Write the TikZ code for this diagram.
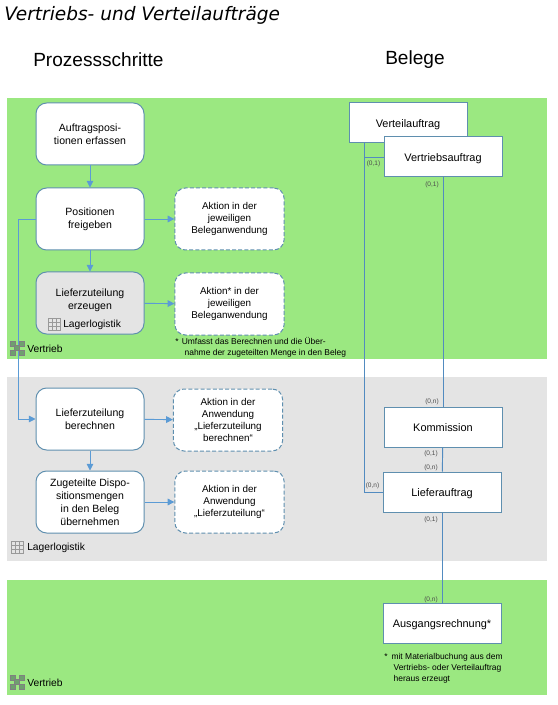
\documentclass[tikz,border=0pt]{standalone}
\usepackage{fontspec}
\setmainfont{Liberation Sans}
\newfontfamily\titlefont{DejaVu Sans}
\usetikzlibrary{arrows.meta}
\definecolor{bandgreen}{HTML}{9BE881}
\definecolor{bandgray}{HTML}{E4E4E4}
\definecolor{flowblue}{HTML}{5B9BD5}
\definecolor{edgeblue}{HTML}{5F8FAF}
\definecolor{iconleaf}{HTML}{6F9F6F}
\tikzset{
  nudged/.style={execute at begin node={\vspace*{#1}}},
  stepbox/.style={draw=edgeblue,line width=0.75pt,fill=white,rounded corners=8pt,minimum width=81pt,minimum height=46.5pt,align=center,inner sep=1pt,font=\fontsize{7.9}{9.8}\selectfont},
  actionbox/.style={stepbox,dashed,dash pattern=on 3pt off 1.6pt,minimum width=82pt,font=\fontsize{7.4}{9.2}\selectfont},
  docbox/.style={draw=edgeblue,line width=0.75pt,fill=white,minimum width=88.5pt,minimum height=30pt,inner sep=1pt,text height=7pt,text depth=0pt,font=\fontsize{8.2}{10}\selectfont},
  card/.style={font=\fontsize{4.9}{6}\selectfont,inner sep=0pt,text=black!70},
  flow/.style={draw=flowblue,line width=0.7pt,-{Triangle[length=5pt,width=5pt]}},
  link/.style={draw=flowblue!90!black,line width=0.7pt},
  note/.style={font=\fontsize{6.35}{8.2}\selectfont,align=left,inner sep=0pt,anchor=north west},
  tag/.style={font=\fontsize{7.7}{9}\selectfont,inner sep=0pt,anchor=west}
}
\newcommand{\gridicon}[2]{%
  \draw[black!40,line width=0.3pt,shift={(#1,#2)}] (0,0) rectangle (12,12) (0,4) -- (12,4) (0,8) -- (12,8) (4,0) -- (4,12) (8,0) -- (8,12);}
\newcommand{\salesicon}[2]{%
  \draw[black!50,line width=0.5pt,shift={(#1,#2)}] (3,3) -- (11,11) (11,3) -- (3,11);
  \foreach \px/\py in {0/0,9/0,0/9,9/9,4.5/4.5}
    \draw[black!50,fill=iconleaf,line width=0.3pt,shift={(#1,#2)}] (\px,\py) rectangle ++(5,5);}
\begin{document}
\begin{tikzpicture}[x=0.75pt,y=0.75pt,yscale=-1,xscale=1]
  \useasboundingbox (0,0) rectangle (557,705);

  %Bands
  \fill[bandgreen] (7,98) rectangle (547,359);
  \fill[bandgray] (7,377) rectangle (547,561);
  \fill[bandgreen] (7,580) rectangle (547,695);

  % Headings
  \node[anchor=west,inner sep=0pt,font=\titlefont\itshape\fontsize{13.9}{15}\selectfont] (title) at (4,15) {Vertriebs- und Verteilaufträge};
  \node[anchor=west,inner sep=0pt,font=\fontsize{14.3}{16}\selectfont] (headsteps) at (33,60) {Prozessschritte};
  \node[anchor=west,inner sep=0pt,font=\fontsize{14.3}{16}\selectfont] (headdocs) at (385,60) {Belege};

  % Process steps
  \node[stepbox,nudged=2.4pt] (erfassen) at (90,134) {Auftragsposi-\\tionen erfassen};
  \node[stepbox,nudged=2.4pt] (freigeben) at (90,219) {Positionen\\freigeben};
  \node[stepbox,fill=bandgray] (erzeugen) at (90,303) {Lieferzuteilung\\erzeugen\\[-3.8pt]\mbox{}};
  \node[stepbox,nudged=2.4pt] (berechnen) at (90,419) {Lieferzuteilung\\berechnen};
  \node[stepbox,nudged=2.4pt] (uebernehmen) at (90,502) {Zugeteilte Dispo-\\sitionsmengen\\in den Beleg\\übernehmen};

  % Actions
  \node[actionbox,nudged=2.4pt] (aktion a) at (229.5,219) {Aktion in der\\jeweiligen\\Beleganwendung};
  \node[actionbox,nudged=2.4pt] (aktion b) at (229.5,304) {Aktion* in der\\jeweiligen\\Beleganwendung};
  \node[actionbox,nudged=2.4pt] (aktion c) at (228,420) {Aktion in der\\Anwendung\\„Lieferzuteilung\\berechnen“};
  \node[actionbox,nudged=2.4pt] (aktion d) at (229.5,502) {Aktion in der\\Anwendung\\„Lieferzuteilung“};

  % Step arrows
  \draw[flow] (erfassen) -- (freigeben);
  \draw[flow] (freigeben) -- (erzeugen);
  \draw[flow] (berechnen) -- (uebernehmen);
  \draw[flow] (freigeben) -- (aktion a);
  \draw[flow] (erzeugen) -- (aktion b);
  \draw[flow] (berechnen) -- (aktion c);
  \draw[flow] (uebernehmen) -- (aktion d);
  \draw[flow] (freigeben.west) -- (18,219) -- (18,419) -- (berechnen.west);

  % Documents
  \node[docbox] (verteil) at (408,123) {Verteilauftrag};
  \coordinate (verteil foot) at (364,143);
  \coordinate (verteil knee) at (364,157);
  \coordinate (liefer knee) at (364,492);
  \draw[link] (verteil foot) -- (liefer knee);
  \draw[link] (verteil knee) -- (384,157);
  \node[docbox] (vertrieb) at (443,157) {Vertriebsauftrag};
  \node[docbox] (kommission) at (443,427) {Kommission};
  \node[docbox] (liefer) at (442,492) {Lieferauftrag};
  \node[docbox] (rechnung) at (442,623) {Ausgangsrechnung*};
  \draw[link] (liefer knee) -- (liefer);
  \draw[link] (vertrieb) -- (kommission);
  \draw[link] (kommission) -- (liefer);
  \draw[link] (liefer) -- (rechnung);

  % Cardinalities
  \node[card] (c1) at (373.5,163.5) {(0,1)};
  \node[card] (c2) at (432,184.5) {(0,1)};
  \node[card] (c3) at (432,401.5) {(0,n)};
  \node[card] (c4) at (431,454) {(0,1)};
  \node[card] (c5) at (431,467.5) {(0,n)};
  \node[card] (c6) at (372.5,485.5) {(0,n)};
  \node[card] (c7) at (431,519.5) {(0,1)};
  \node[card] (c8) at (431,600) {(0,n)};

  % Notes
  \node[note] (note a) at (175,337.5) {*\hspace{2.4pt}Umfasst das Berechnen und die Über-\\\hspace{7pt}nahme der zugeteilten Menge in den Beleg};
  \node[note] (note b) at (384,653) {*\hspace{3pt}mit Materialbuchung aus dem\\\hspace{7pt}Vertriebs- oder Verteilauftrag\\\hspace{7pt}heraus erzeugt};

  % System tags
  \gridicon{48}{318}
  \node[tag] (tag a) at (63,324.5) {Lagerlogistik};
  \salesicon{10}{341}
  \node[tag] (tag b) at (27,348.5) {Vertrieb};
  \gridicon{11}{541}
  \node[tag] (tag c) at (27,547.5) {Lagerlogistik};
  \salesicon{10}{675}
  \node[tag] (tag d) at (27,682.5) {Vertrieb};
\end{tikzpicture}
\end{document}
